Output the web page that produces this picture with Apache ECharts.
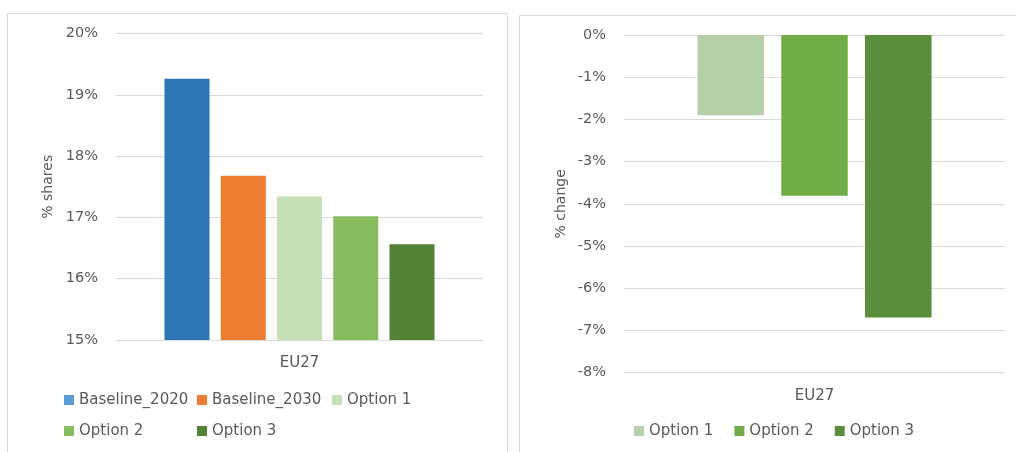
<!DOCTYPE html>
<html>
<head>
<meta charset="utf-8">
<script src="https://cdn.jsdelivr.net/npm/echarts@6/dist/echarts.min.js"></script>
<style>
  html, body { margin: 0; padding: 0; background: #fff; }
  #chart { width: 1016px; height: 452px; }
</style>
</head>
<body>
<div id="chart"></div>
<script>
// left panel: % shares
const categories = ['EU27']
const shareNames = ['Baseline_2020', 'Baseline_2030', 'Option 1', 'Option 2', 'Option 3']
const shareValues = [19.26, 17.68, 17.34, 17.02, 16.56]
const shareColors = ['#2E75B6', '#ED7D31', '#C5E0B4', '#87BC5F', '#548235']
const shareTicks = [15, 16, 17, 18, 19, 20]

// right panel: % change
const changeNames = ['Option 1', 'Option 2', 'Option 3']
const changeValues = [-1.9, -3.81, -6.69]
const changeColors = ['#B5CFA8', '#70AD47', '#5B8E3A']
const changeTicks = [-8, -7, -6, -5, -4, -3, -2, -1, 0]

const font = 'DejaVu Sans'
const textColor = '#595959'
const gridColor = '#D9D9D9'

const chart = echarts.init(document.getElementById('chart'))

const valueAxis = (ticks, gridIndex, nameText, nameGap) => ({
  type: 'value',
  gridIndex,
  min: ticks[0],
  max: ticks[ticks.length - 1],
  interval: 1,
  name: nameText,
  nameLocation: 'middle',
  nameGap,
  nameRotate: 90,
  nameTextStyle: { fontFamily: font, fontSize: 14, color: textColor },
  axisLine: { show: false },
  axisTick: { show: false },
  axisLabel: { fontFamily: font, fontSize: 14.5, color: textColor, margin: 18, formatter: '{value}%' },
  splitLine: { lineStyle: { color: gridColor, width: 1 } }
})

const catAxis = (gridIndex) => ({
  type: 'category',
  gridIndex,
  data: categories,
  axisLine: { show: false },
  axisTick: { show: false },
  axisLabel: { fontFamily: font, fontSize: 15, color: textColor, margin: 16 }
})

const legendText = { fontFamily: font, fontSize: 15, color: textColor, lineHeight: 16 }
const colLegend = (left, names) => ({
  orient: 'vertical',
  left,
  top: 392,
  padding: 0,
  itemWidth: 10,
  itemHeight: 10,
  itemGap: 15,
  icon: 'rect',
  selectedMode: false,
  textStyle: legendText,
  data: names.map(n => {
    const i = shareNames.indexOf(n)
    return { name: n, itemStyle: { color: i === 0 ? '#5B9BD5' : shareColors[i] } }
  })
})

chart.setOption({
  animation: false,
  graphic: [
    { type: 'rect', shape: { x: 7.5, y: 13.5, width: 500, height: 470 }, style: { fill: 'none', stroke: gridColor, lineWidth: 1 } },
    { type: 'rect', shape: { x: 519.5, y: 15.5, width: 520, height: 470 }, style: { fill: 'none', stroke: gridColor, lineWidth: 1 } }
  ],
  grid: [
    { left: 116, right: 533, top: 33.5, bottom: 112 },
    { left: 624, right: 11, top: 35, bottom: 79.3 }
  ],
  xAxis: [catAxis(0), catAxis(1)],
  yAxis: [
    valueAxis(shareTicks, 0, '% shares', 61),
    valueAxis(changeTicks, 1, '% change', 56)
  ],
  legend: [
    colLegend(64, ['Baseline_2020', 'Option 2']),
    colLegend(197, ['Baseline_2030', 'Option 3']),
    colLegend(332, ['Option 1']),
    {
      orient: 'horizontal',
      left: 634,
      top: 423,
      padding: 0,
      itemWidth: 10,
      itemHeight: 10,
      itemGap: 21,
      icon: 'rect',
      selectedMode: false,
      textStyle: legendText,
      data: changeNames.map((n, i) => ({ name: n, itemStyle: { color: changeColors[i] } }))
    }
  ],
  series: [
    ...shareNames.map((n, i) => ({
      name: n,
      type: 'bar',
      xAxisIndex: 0,
      yAxisIndex: 0,
      barWidth: 45,
      barGap: '25%',
      itemStyle: { color: shareColors[i] },
      data: [shareValues[i]]
    })),
    ...changeNames.map((n, i) => ({
      name: n,
      type: 'bar',
      xAxisIndex: 1,
      yAxisIndex: 1,
      barWidth: 66.5,
      barGap: '26%',
      itemStyle: { color: changeColors[i] },
      data: [changeValues[i]]
    }))
  ]
})
</script>
</body>
</html>
